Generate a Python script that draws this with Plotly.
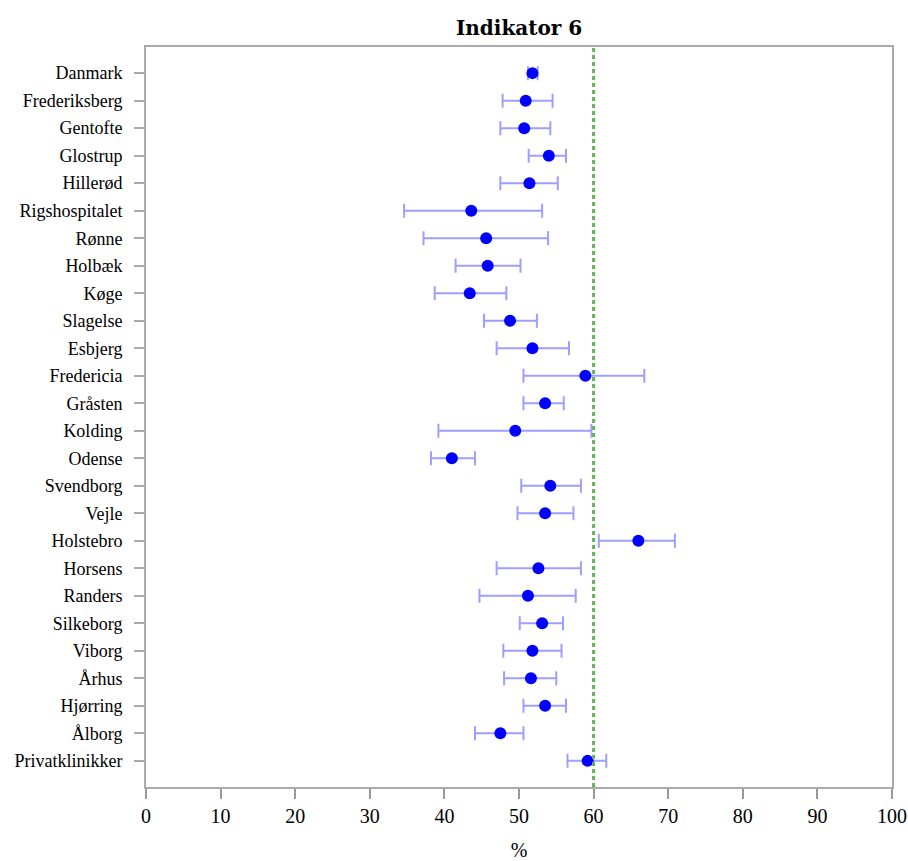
import plotly.graph_objects as go

categories = ["Danmark", "Frederiksberg", "Gentofte", "Glostrup", "Hillerød",
              "Rigshospitalet", "Rønne", "Holbæk", "Køge", "Slagelse", "Esbjerg",
              "Fredericia", "Gråsten", "Kolding", "Odense", "Svendborg", "Vejle",
              "Holstebro", "Horsens", "Randers", "Silkeborg", "Viborg", "Århus",
              "Hjørring", "Ålborg", "Privatklinikker"]
values = [51.8, 50.9, 50.7, 54.0, 51.4, 43.6, 45.6, 45.8, 43.4, 48.8, 51.8,
          58.9, 53.5, 49.5, 41.0, 54.2, 53.5, 66.0, 52.6, 51.2, 53.1, 51.8,
          51.6, 53.5, 47.5, 59.2]
lower = [51.2, 47.8, 47.5, 51.3, 47.5, 34.6, 37.2, 41.5, 38.7, 45.3, 47.0,
         50.6, 50.6, 39.2, 38.2, 50.3, 49.8, 60.7, 47.0, 44.7, 50.1, 47.9,
         48.0, 50.6, 44.1, 56.5]
upper = [52.5, 54.5, 54.2, 56.3, 55.2, 53.1, 53.9, 50.2, 48.3, 52.4, 56.7,
         66.8, 56.0, 59.7, 44.1, 58.3, 57.3, 70.9, 58.3, 57.6, 55.9, 55.7,
         55.0, 56.3, 50.6, 61.7]
target = 60
x_ticks = [0, 10, 20, 30, 40, 50, 60, 70, 80, 90, 100]

err_plus = [u - v for u, v in zip(upper, values)]
err_minus = [v - l for v, l in zip(values, lower)]

fig = go.Figure()
fig.add_trace(go.Scatter(
    x=values, y=categories, mode="markers",
    marker=dict(color="#0000ff", size=12),
    error_x=dict(type="data", symmetric=False, array=err_plus, arrayminus=err_minus,
                 color="rgba(0,0,255,0.38)", thickness=2, width=7),
    showlegend=False,
))

fig.add_shape(type="line", xref="x", yref="paper", x0=target, x1=target, y0=0, y1=1,
              line=dict(color="#62b357", width=3, dash="4px,3px"))

fig.update_layout(
    width=908, height=861,
    margin=dict(l=146, r=16, t=47, b=74, autoexpand=False),
    paper_bgcolor="white", plot_bgcolor="white",
    title=dict(text="<b>Indikator 6</b>", x=0.5717, xanchor="center", y=0.968, yanchor="middle",
               font=dict(family="DejaVu Serif", size=20, color="black")),
    font=dict(family="Liberation Serif", color="black"),
)
fig.update_xaxes(
    range=[0, 100], tickvals=x_ticks, ticktext=[str(t) for t in x_ticks],
    automargin=False,
    showgrid=False, zeroline=False,
    showline=True, linecolor="#aaaaaa", linewidth=2, mirror=True,
    ticks="outside", ticklen=10, tickcolor="#999999", tickwidth=2,
    ticklabelstandoff=0,
    tickfont=dict(family="Liberation Serif", size=20, color="black"),
    title=dict(text="%", font=dict(family="Liberation Serif", size=20, color="black"), standoff=26),
)
fig.update_yaxes(
    type="category", categoryorder="array", categoryarray=categories,
    range=[len(categories) - 1 + 0.95, -0.95],
    automargin=False,
    showgrid=False, zeroline=False,
    showline=True, linecolor="#aaaaaa", linewidth=2, mirror=True,
    ticks="outside", ticklen=10, tickcolor="#aaaaaa", tickwidth=2,
    ticklabelstandoff=8,
    tickfont=dict(family="Liberation Serif", size=18, color="black"),
)

fig.write_html("out.html")
